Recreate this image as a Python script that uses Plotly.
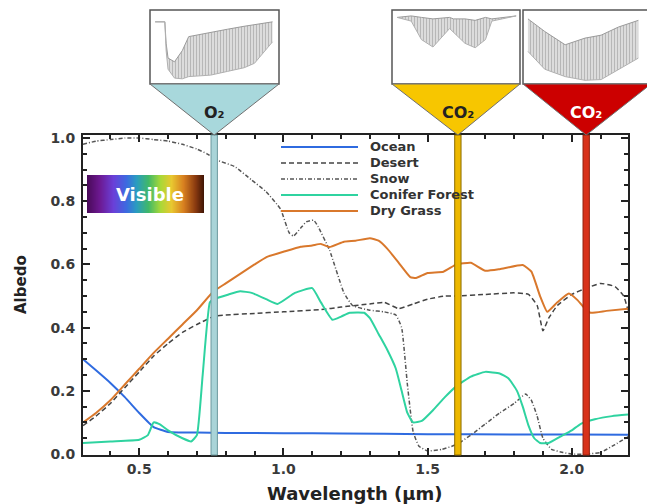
import plotly.graph_objects as go

# ---------------- data ----------------
ocean_wl = [0.305, 0.35, 0.40, 0.45, 0.50, 0.55, 0.60, 0.70, 0.80, 1.00, 1.20, 1.50, 1.80, 2.00, 2.195]
ocean_al = [0.30, 0.265, 0.225, 0.18, 0.13, 0.085, 0.07, 0.068, 0.067, 0.066, 0.065, 0.063, 0.062, 0.062, 0.061]

desert_wl = [0.305, 0.35, 0.40, 0.45, 0.50, 0.55, 0.60, 0.65, 0.70, 0.76, 0.80, 0.90, 1.00, 1.13, 1.20, 1.30,
             1.35, 1.40, 1.45, 1.50, 1.56, 1.60, 1.70, 1.80, 1.85, 1.88, 1.90, 1.92, 1.95, 2.00, 2.05, 2.10,
             2.15, 2.18, 2.195]
desert_al = [0.09, 0.12, 0.16, 0.21, 0.26, 0.31, 0.35, 0.385, 0.41, 0.436, 0.44, 0.445, 0.45, 0.457, 0.465, 0.475,
             0.48, 0.46, 0.475, 0.49, 0.50, 0.50, 0.505, 0.51, 0.505, 0.47, 0.39, 0.43, 0.47, 0.505, 0.525, 0.54,
             0.53, 0.50, 0.455]

snow_wl = [0.305, 0.35, 0.40, 0.45, 0.50, 0.55, 0.60, 0.65, 0.70, 0.735, 0.77, 0.83, 0.89, 0.94, 0.99, 1.02,
           1.035, 1.06, 1.08, 1.105, 1.12, 1.16, 1.21, 1.24, 1.30, 1.35, 1.39, 1.41, 1.43, 1.45, 1.47, 1.50,
           1.55, 1.60, 1.65, 1.70, 1.75, 1.80, 1.84, 1.86, 1.88, 1.90, 1.93, 1.97, 2.00, 2.05, 2.10, 2.15, 2.195]
snow_al = [0.98, 0.99, 0.995, 1.0, 1.0, 0.995, 0.99, 0.98, 0.965, 0.95, 0.93, 0.91, 0.867, 0.83, 0.775, 0.70,
           0.69, 0.715, 0.735, 0.74, 0.72, 0.645, 0.51, 0.47, 0.455, 0.45, 0.44, 0.40, 0.22, 0.07, 0.025, 0.01,
           0.015, 0.03, 0.06, 0.095, 0.13, 0.16, 0.19, 0.17, 0.12, 0.05, 0.015, 0.005, 0.0, 0.0, 0.005, 0.03, 0.055]

conifer_wl = [0.305, 0.40, 0.50, 0.53, 0.55, 0.57, 0.60, 0.65, 0.68, 0.70, 0.72, 0.745, 0.76, 0.81, 0.85, 0.89,
              0.94, 0.98, 1.04, 1.10, 1.13, 1.17, 1.20, 1.23, 1.28, 1.30, 1.33, 1.36, 1.39, 1.41, 1.43, 1.45,
              1.48, 1.52, 1.56, 1.60, 1.65, 1.70, 1.75, 1.78, 1.81, 1.83, 1.85, 1.87, 1.89, 1.92, 1.96, 2.00,
              2.03, 2.08, 2.14, 2.195]
conifer_al = [0.035, 0.04, 0.045, 0.06, 0.10, 0.095, 0.075, 0.05, 0.04, 0.06, 0.25, 0.48, 0.49, 0.505, 0.515, 0.51,
              0.49, 0.475, 0.51, 0.525, 0.48, 0.425, 0.435, 0.447, 0.447, 0.43, 0.38, 0.33, 0.27, 0.20, 0.13, 0.10,
              0.105, 0.14, 0.18, 0.215, 0.245, 0.26, 0.255, 0.24, 0.20, 0.15, 0.09, 0.05, 0.035, 0.035, 0.055, 0.075,
              0.095, 0.11, 0.12, 0.125]

grass_wl = [0.305, 0.35, 0.40, 0.45, 0.50, 0.55, 0.60, 0.65, 0.70, 0.757, 0.80, 0.85, 0.90, 0.943, 1.00, 1.06,
            1.10, 1.13, 1.16, 1.21, 1.25, 1.30, 1.33, 1.36, 1.40, 1.44, 1.46, 1.50, 1.555, 1.60, 1.65, 1.70,
            1.75, 1.83, 1.86, 1.89, 1.915, 1.95, 1.99, 2.02, 2.04, 2.065, 2.12, 2.195]
grass_al = [0.10, 0.13, 0.17, 0.22, 0.27, 0.32, 0.365, 0.41, 0.455, 0.514, 0.54, 0.57, 0.60, 0.624, 0.64, 0.656,
            0.66, 0.665, 0.655, 0.672, 0.675, 0.683, 0.675, 0.65, 0.605, 0.56, 0.557, 0.573, 0.577, 0.60, 0.605, 0.58,
            0.585, 0.598, 0.577, 0.50, 0.45, 0.48, 0.508, 0.487, 0.466, 0.447, 0.453, 0.46]

series_names = ["Ocean", "Desert", "Snow", "Conifer Forest", "Dry Grass"]
series_colors = ["#2f6be0", "#444444", "#555555", "#2fd3a0", "#d9782c"]
series_dash = ["solid", "5px,3px", "4px,2px,1px,2px", "solid", "solid"]
series_width = [2, 1.5, 1.5, 2, 2]

# absorption bands
band_wl = [0.76, 1.605, 2.05]
band_fill = ["#a9d4d8", "#edb800", "#d8321a"]
band_edge = ["#6a989c", "#8c6d00", "#92200e"]
band_tri_fill = ["#a8d8dc", "#f7c600", "#cc0000"]
band_label = ["O₂", "CO₂", "CO₂"]
band_label_color = ["#222222", "#222222", "#ffffff"]

# inset absorption spectra (normalised box coordinates)
o2_u = [0.04, 0.115, 0.125, 0.14, 0.19, 0.25, 0.30, 0.47, 0.60, 0.73, 0.81, 0.95]
o2_up = [0.84, 0.84, 0.55, 0.35, 0.30, 0.45, 0.64, 0.70, 0.74, 0.78, 0.80, 0.84]
o2_lo = [0.84, 0.84, 0.45, 0.20, 0.08, 0.07, 0.10, 0.12, 0.17, 0.22, 0.28, 0.57]

co2a_u = [0.04, 0.15, 0.23, 0.32, 0.45, 0.48, 0.57, 0.65, 0.73, 0.78, 0.97]
co2a_up = [0.90, 0.92, 0.90, 0.88, 0.90, 0.88, 0.88, 0.86, 0.90, 0.88, 0.92]
co2a_lo = [0.90, 0.85, 0.60, 0.50, 0.75, 0.70, 0.55, 0.49, 0.60, 0.85, 0.92]

co2b_u = [0.04, 0.175, 0.34, 0.50, 0.63, 0.77, 0.93]
co2b_up = [0.88, 0.71, 0.53, 0.62, 0.66, 0.77, 0.86]
co2b_lo = [0.44, 0.20, 0.10, 0.05, 0.06, 0.20, 0.35]

# visible-spectrum colour bar
visible_pos = [0.0, 0.10, 0.22, 0.33, 0.42, 0.52, 0.62, 0.72, 0.82, 0.92, 1.0]
visible_col = ["#4a0a5a", "#6c1890", "#6a40d8", "#3c6ae0", "#2a9cc0", "#40b868",
               "#a8d838", "#e8c830", "#d88020", "#8a3a10", "#3a1205"]

x_ticks = [0.5, 1.0, 1.5, 2.0]
y_ticks = [0.0, 0.2, 0.4, 0.6, 0.8, 1.0]

# ---------------- layout helpers ----------------
W, H = 647, 504
XR = [0.305, 2.195]
YR = [-0.003, 1.0095]


def px(x):
    return x / W


def py(y):
    return (H - y) / H


X_DOM = [px(83), px(628)]
Y_DOM = [py(455), py(135)]


def lam_paper(l):
    return X_DOM[0] + (l - XR[0]) / (XR[1] - XR[0]) * (X_DOM[1] - X_DOM[0])


fig = go.Figure()

curves = [(ocean_wl, ocean_al), (desert_wl, desert_al), (snow_wl, snow_al),
          (conifer_wl, conifer_al), (grass_wl, grass_al)]
for (xw, ya), name, col, dsh, lw in zip(curves, series_names, series_colors, series_dash, series_width):
    fig.add_trace(go.Scatter(x=xw, y=ya, mode="lines", name=name,
                             line=dict(color=col, width=lw, dash=dsh, shape="spline", smoothing=0.4),
                             showlegend=False, hoverinfo="skip"))

# inset spectra
insets = [(o2_u, o2_up, o2_lo, (150, 10, 279, 84)),
          (co2a_u, co2a_up, co2a_lo, (392, 10, 520, 84)),
          (co2b_u, co2b_up, co2b_lo, (523, 10, 647, 84))]
for i, (u, up, lo, box) in enumerate(insets):
    k = i + 2
    fig.add_trace(go.Scatter(x=u, y=up, mode="lines", line=dict(color="#9a9a9a", width=1),
                             xaxis=f"x{k}", yaxis=f"y{k}", showlegend=False, hoverinfo="skip"))
    fig.add_trace(go.Scatter(x=u, y=lo, mode="lines", line=dict(color="#b0b0b0", width=1),
                             fill="tonexty", fillcolor="rgba(200,200,200,0.5)",
                             fillpattern=dict(shape="|", fgcolor="#8c8c8c", size=3, solidity=0.45),
                             xaxis=f"x{k}", yaxis=f"y{k}", showlegend=False, hoverinfo="skip"))
    fig.update_layout(**{
        f"xaxis{k}": dict(domain=[px(box[0]), min(1.0, px(box[2]))], range=[0, 1], visible=False,
                          anchor=f"y{k}", fixedrange=True),
        f"yaxis{k}": dict(domain=[py(box[3]), py(box[1])], range=[0, 1], visible=False,
                          anchor=f"x{k}", fixedrange=True),
    })

# visible bar
cscale = [[p, c] for p, c in zip(visible_pos, visible_col)]
fig.add_trace(go.Heatmap(z=[visible_pos, visible_pos], x=visible_pos, y=[0, 1], colorscale=cscale,
                         zmin=0, zmax=1, zsmooth="best", showscale=False, hoverinfo="skip",
                         xaxis="x5", yaxis="y5"))
fig.update_layout(
    xaxis5=dict(domain=[px(87), px(204)], range=[0, 1], visible=False, anchor="y5"),
    yaxis5=dict(domain=[py(213), py(175)], range=[0, 1], visible=False, anchor="x5"),
)

shapes = []
annotations = []

# bands inside plot
for l, f, e in zip(band_wl, band_fill, band_edge):
    shapes.append(dict(type="rect", xref="x", yref="paper", x0=l - 0.011, x1=l + 0.011,
                       y0=Y_DOM[0], y1=Y_DOM[1], fillcolor=f, line=dict(color=e, width=1), layer="above"))

# boxes and triangles above
boxes = [(150, 10, 279, 84), (392, 10, 520, 84), (523, 10, 651, 84)]
for (x0, y0, x1, y1), l, tf, lab, lc in zip(boxes, band_wl, band_tri_fill, band_label, band_label_color):
    shapes.append(dict(type="rect", xref="paper", yref="paper", x0=px(x0), x1=px(x1), y0=py(y1), y1=py(y0),
                       fillcolor="rgba(0,0,0,0)", line=dict(color="#555555", width=1.5), layer="above"))
    ax = lam_paper(l)
    path = f"M {px(x0)} {py(y1)} L {px(x1)} {py(y1)} L {ax} {Y_DOM[1]} Z"
    shapes.append(dict(type="path", xref="paper", yref="paper", path=path, fillcolor=tf,
                       line=dict(color="#707070", width=1), layer="above"))
    annotations.append(dict(xref="paper", yref="paper", x=ax, y=py(112), text=lab,
                            showarrow=False, font=dict(family="DejaVu Sans", size=16, color=lc, weight="bold"),
                            xanchor="center", yanchor="middle"))

# legend
leg_rows = [147, 163, 179, 195, 211]
for name, col, dsh, lw, ry in zip(series_names, series_colors, series_dash, series_width, leg_rows):
    shapes.append(dict(type="line", xref="paper", yref="paper", x0=px(281), x1=px(358), y0=py(ry), y1=py(ry),
                       line=dict(color=col, width=lw, dash=dsh)))
    annotations.append(dict(xref="paper", yref="paper", x=px(368), y=py(ry), text=name, showarrow=False,
                            xanchor="left", yanchor="middle",
                            font=dict(family="DejaVu Sans", size=13, color="#333333", weight="bold")))

annotations.append(dict(xref="paper", yref="paper", x=px(150), y=py(195), text="Visible",
                        showarrow=False, font=dict(family="DejaVu Sans", size=18, color="white", weight="bold"),
                        xanchor="center", yanchor="middle"))
annotations.append(dict(xref="paper", yref="paper", x=px(21), y=py(285), text="Albedo",
                        textangle=-90, showarrow=False,
                        font=dict(family="DejaVu Sans", size=15, color="#222222", weight="bold"),
                        xanchor="center", yanchor="middle"))
annotations.append(dict(xref="paper", yref="paper", x=px(355), y=py(493), text="Wavelength (µm)",
                        showarrow=False, font=dict(family="DejaVu Sans", size=18, color="#222222", weight="bold"),
                        xanchor="center", yanchor="middle"))

axis_common = dict(showline=True, linewidth=2, linecolor="#222222", mirror="allticks", ticks="inside",
                   ticklen=7, tickwidth=1.5, tickcolor="#222222", showgrid=False, zeroline=False,
                   automargin=False, fixedrange=True,
                   tickfont=dict(family="DejaVu Sans", size=14, color="#3a3a3a", weight="bold"))

fig.update_layout(
    width=W, height=H, margin=dict(l=0, r=0, t=0, b=0),
    paper_bgcolor="white", plot_bgcolor="white",
    xaxis=dict(domain=X_DOM, range=XR, tickvals=x_ticks, ticktext=[f"{v:.1f}" for v in x_ticks],
               minor=dict(ticks="inside", dtick=0.1, tick0=0.3, ticklen=4, tickwidth=1.5, tickcolor="#222222",
                          showgrid=False),
               **axis_common),
    yaxis=dict(domain=Y_DOM, range=YR, tickvals=y_ticks, ticktext=[f"{v:.1f}" for v in y_ticks],
               minor=dict(ticks="inside", dtick=0.05, tick0=0, ticklen=4, tickwidth=1.5, tickcolor="#222222",
                          showgrid=False),
               ticklabelstandoff=3, **axis_common),
    shapes=shapes, annotations=annotations, showlegend=False,
)

fig.write_html("out.html")
